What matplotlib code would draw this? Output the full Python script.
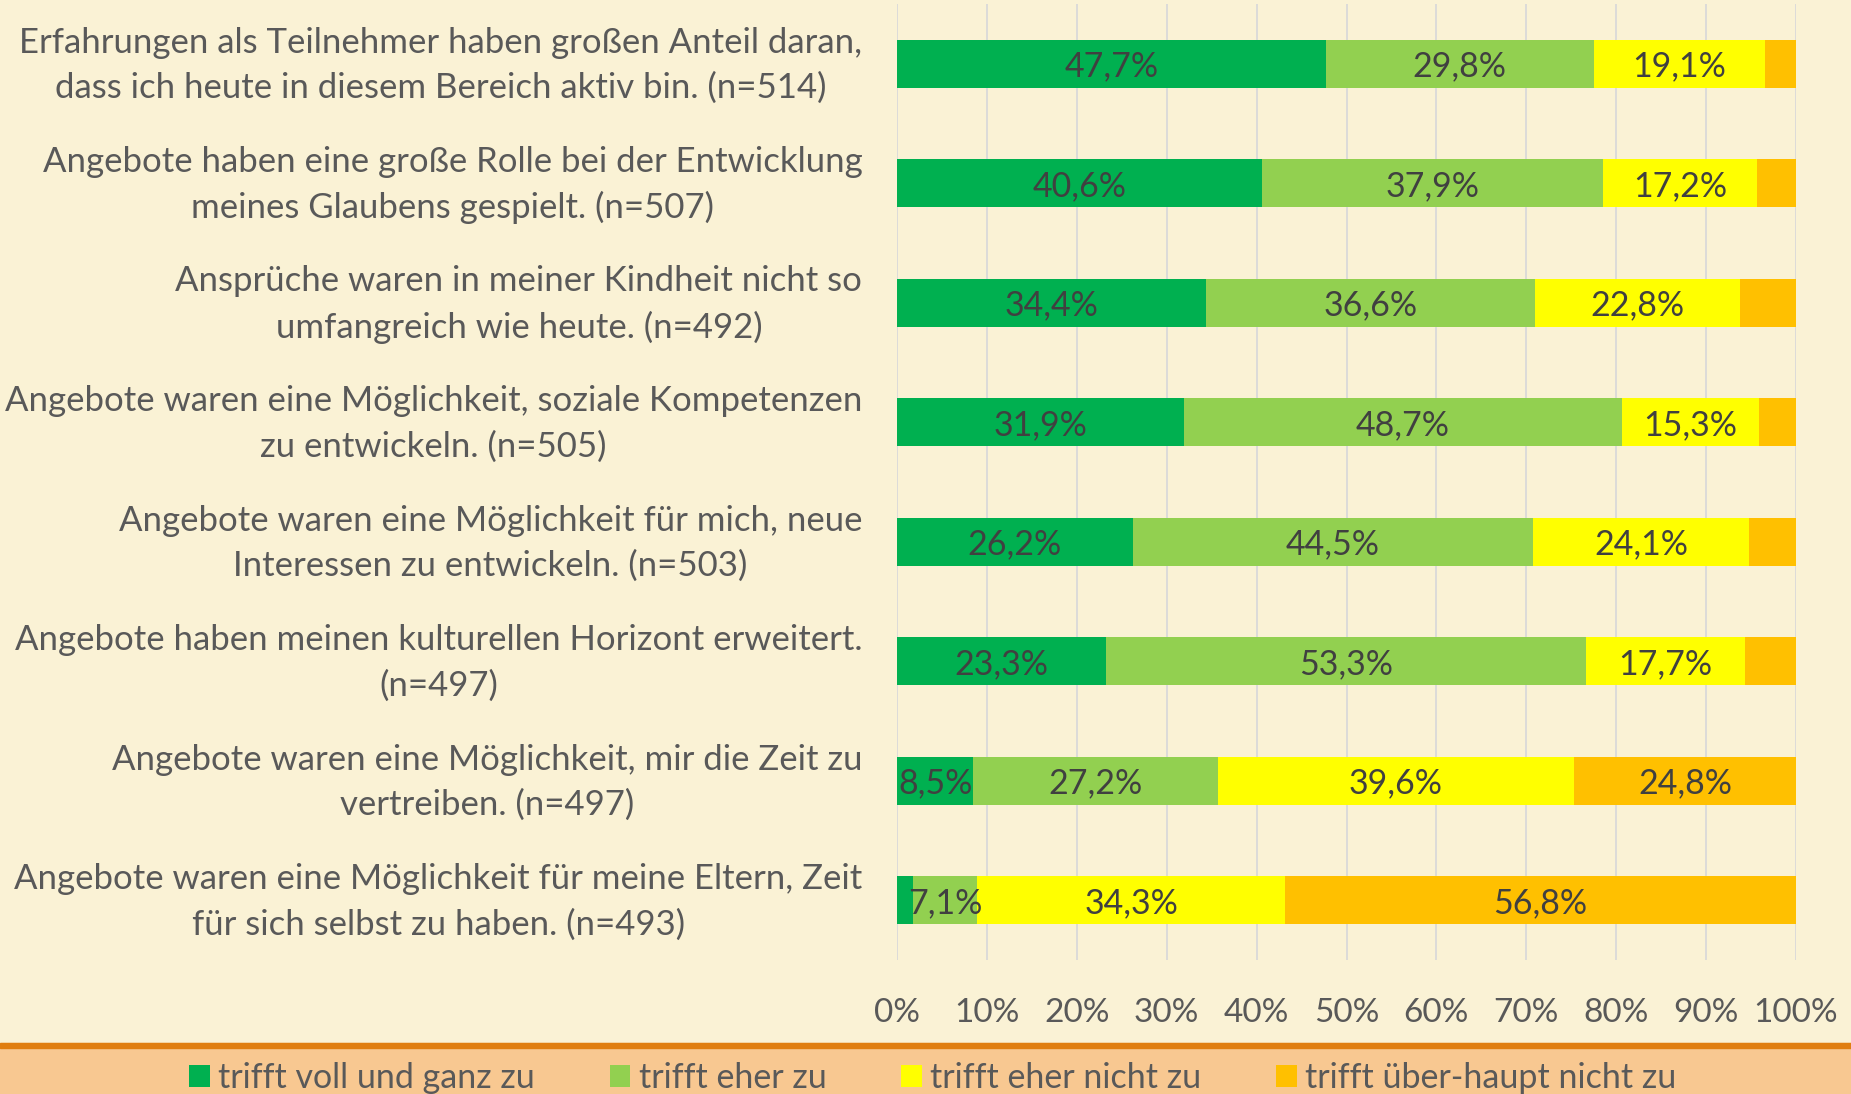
import matplotlib.pyplot as plt
import matplotlib.transforms as mtransforms
from matplotlib.patches import Rectangle, Patch

plt.rcParams['font.family'] = ['Lato', 'DejaVu Sans']

statements = [
    'Erfahrungen als Teilnehmer haben großen Anteil daran,\ndass ich heute in diesem Bereich aktiv bin. (n=514)',
    'Angebote haben eine große Rolle bei der Entwicklung\nmeines Glaubens gespielt. (n=507)',
    'Ansprüche waren in meiner Kindheit nicht so\numfangreich wie heute. (n=492)',
    'Angebote waren eine Möglichkeit, soziale Kompetenzen\nzu entwickeln. (n=505)',
    'Angebote waren eine Möglichkeit für mich, neue\nInteressen zu entwickeln. (n=503)',
    'Angebote haben meinen kulturellen Horizont erweitert.\n(n=497)',
    'Angebote waren eine Möglichkeit, mir die Zeit zu\nvertreiben. (n=497)',
    'Angebote waren eine Möglichkeit für meine Eltern, Zeit\nfür sich selbst zu haben. (n=493)',
]
voll = [47.7, 40.6, 34.4, 31.9, 26.2, 23.3, 8.5, 1.8]
eher = [29.8, 37.9, 36.6, 48.7, 44.5, 53.3, 27.2, 7.1]
eher_nicht = [19.1, 17.2, 22.8, 15.3, 24.1, 17.7, 39.6, 34.3]
gar_nicht = [3.4, 4.3, 6.2, 4.1, 5.2, 5.7, 24.8, 56.8]

categories = ['trifft voll und ganz zu', 'trifft eher zu', 'trifft eher nicht zu', 'trifft über-haupt nicht zu']
colors = ['#00B050', '#92D050', '#FFFF00', '#FFC000']
series = [voll, eher, eher_nicht, gar_nicht]

bg = '#FAF2D5'
W, H = 1851, 1094
fig = plt.figure(figsize=(W / 100, H / 100), dpi=100, facecolor=bg)

# legend band at the bottom
fig.patches.append(Rectangle((0, 0), 1, 51 / H, transform=fig.transFigure, color='#F8C891', zorder=0))
fig.patches.append(Rectangle((0, 46 / H), 1, 5.5 / H, transform=fig.transFigure, color='#E07E10', zorder=1))

ax = fig.add_axes([897 / W, 1 - 960 / H, (1796 - 897) / W, (960 - 4) / H])
ax.set_facecolor('none')

y = list(range(len(statements)))
left = [0] * len(statements)
for vals, col, name in zip(series, colors, categories):
    bars = ax.barh(y, vals, left=left, height=0.4, color=col, label=name, zorder=2)
    for b, v in zip(bars, vals):
        if v >= 7:
            ax.text(b.get_x() + b.get_width() / 2, b.get_y() + b.get_height() / 2,
                    f'{v:.1f}%'.replace('.', ','), ha='center', va='center_baseline',
                    fontsize=24.5, color='#404040', zorder=3)
    left = [l + v for l, v in zip(left, vals)]

ax.set_xlim(0, 100)
ax.set_ylim(len(statements) - 0.5, -0.5)
ax.set_xticks(range(0, 101, 10))
ax.set_xticklabels([f'{t}%' for t in range(0, 101, 10)])
ax.set_yticks(y)
ax.set_yticklabels(statements, multialignment='center', linespacing=1.5)
ax.tick_params(axis='y', length=0, pad=25, labelsize=25, labelcolor='#595959')
ax.tick_params(axis='x', length=0, pad=27, labelsize=24, labelcolor='#595959')
ax.grid(axis='x', color='#D9D9D9', linewidth=1.3, zorder=0)
for s in ax.spines.values():
    s.set_visible(False)

# nudge the two-line category labels up so they sit centred on the bars
shift = mtransforms.ScaledTranslation(0, 0.08, fig.dpi_scale_trans)
for lab in ax.get_yticklabels():
    lab.set_transform(lab.get_transform() + shift)

handles = [Patch(facecolor=c, label=n) for c, n in zip(colors, categories)]
fig.legend(handles=handles, loc='center', bbox_to_anchor=(0.504, 16 / H), ncol=4, frameon=False,
           fontsize=24.5, labelcolor='#595959', handlelength=0.6, handleheight=0.6,
           handletextpad=0.25, columnspacing=2.2)

fig.savefig('out.png', dpi=100, facecolor=bg)
